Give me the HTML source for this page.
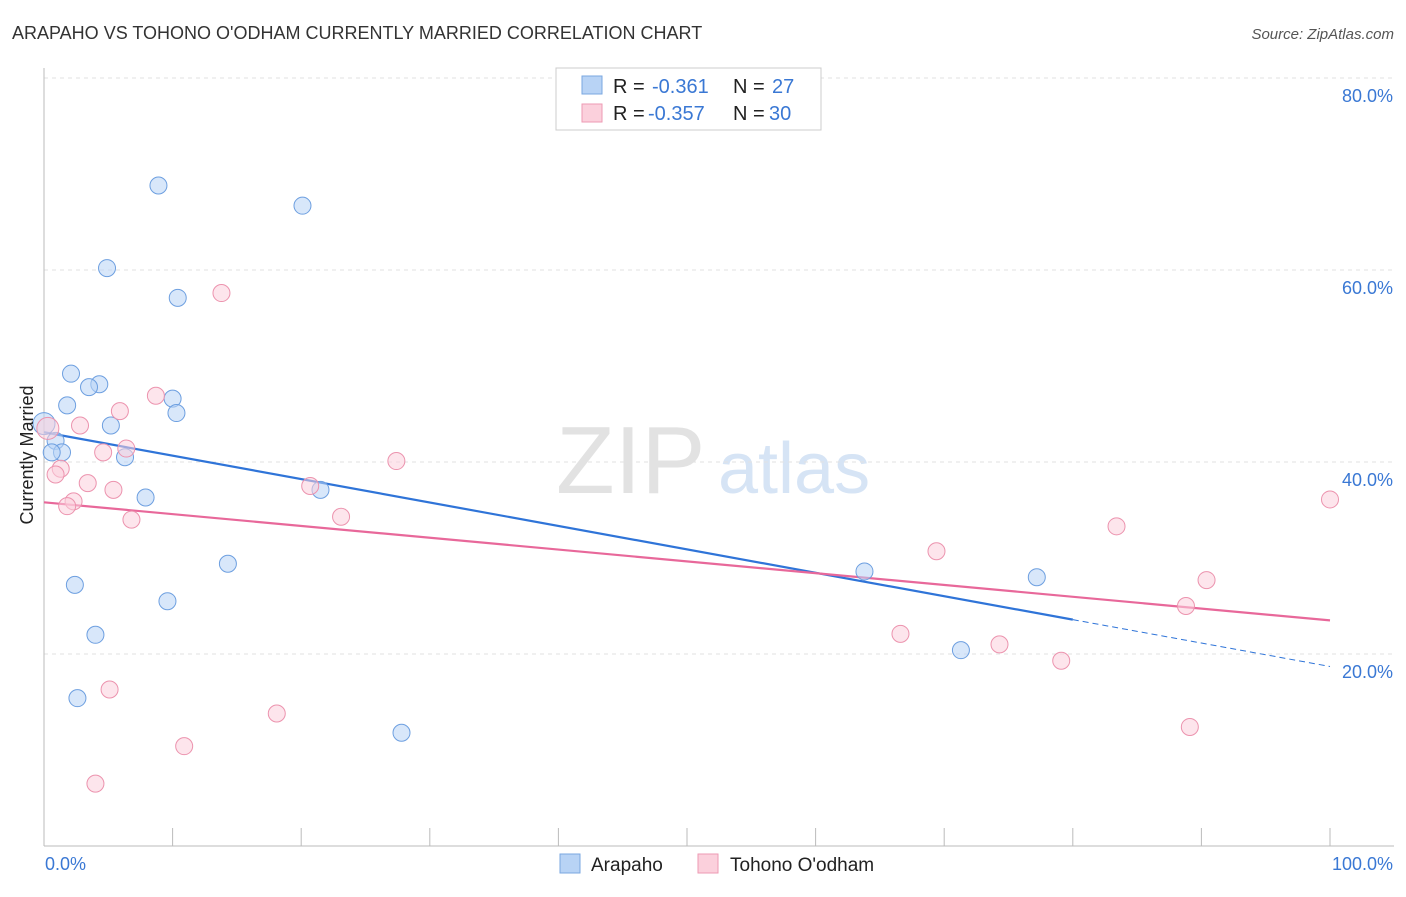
<!DOCTYPE html>
<html><head><meta charset="utf-8"><style>
body{margin:0;background:#fff;font-family:"Liberation Sans",sans-serif;}
svg text{font-family:"Liberation Sans",sans-serif;}
</style></head><body>
<svg id="c" width="1406" height="892">
<text x="12" y="39" font-size="18" fill="#333">ARAPAHO VS TOHONO O'ODHAM CURRENTLY MARRIED CORRELATION CHART</text>
<text x="1394" y="39" font-size="15" fill="#555" text-anchor="end" font-style="italic">Source: ZipAtlas.com</text>
<text x="556" y="493" font-size="96" fill="#e2e2e2" font-family="Liberation Serif">ZIP</text>
<text x="718" y="493" font-size="72" fill="#d6e4f5">atlas</text>
<g id="grid"></g><g id="axes"></g><g id="trend"></g><g id="pts"></g>
<text transform="translate(33,455) rotate(-90)" font-size="18" fill="#222" text-anchor="middle">Currently Married</text>
<text x="45" y="870" font-size="18" fill="#3a78d4">0.0%</text>
<text x="1393" y="870" font-size="18" fill="#3a78d4" text-anchor="end">100.0%</text>
<g>
<rect x="556" y="68" width="265" height="62" fill="#fff" stroke="#ccc"/>
<rect x="582" y="76" width="20" height="18" fill="#b8d3f5" stroke="#7aa7e0"/>
<rect x="582" y="104" width="20" height="18" fill="#fbd0dc" stroke="#ee9ab3"/>
<text x="613" y="93" font-size="20" fill="#222">R =</text>
<text x="652" y="93" font-size="20" fill="#3a78d4">-0.361</text>
<text x="733" y="93" font-size="20" fill="#222">N =</text>
<text x="772" y="93" font-size="20" fill="#3a78d4">27</text>
<text x="613" y="120" font-size="20" fill="#222">R =</text>
<text x="648" y="120" font-size="20" fill="#3a78d4">-0.357</text>
<text x="733" y="120" font-size="20" fill="#222">N =</text>
<text x="769" y="120" font-size="20" fill="#3a78d4">30</text>
</g>
<g>
<rect x="560" y="854" width="20" height="19" fill="#b8d3f5" stroke="#7aa7e0"/>
<text x="591" y="871" font-size="19" fill="#222">Arapaho</text>
<rect x="698" y="854" width="20" height="19" fill="#fbd0dc" stroke="#ee9ab3"/>
<text x="730" y="871" font-size="19" fill="#222">Tohono O'odham</text>
</g>
</svg>
<script>
const yTicks=[20,40,60,80];
const xTicks=[0,10,20,30,40,50,60,70,80,90,100];
const arapahoX=[8.9,20.1,4.9,10.4,2.1,4.3,3.5,1.8,10.0,10.3,5.2,0.9,1.4,0.6,6.3,7.9,21.5,14.3,2.4,9.6,4.0,2.6,27.8,63.8,77.2,71.3,0.0];
const arapahoY=[68.8,66.7,60.2,57.1,49.2,48.1,47.8,45.9,46.6,45.1,43.8,42.2,41.0,41.0,40.5,36.3,37.1,29.4,27.2,25.5,22.0,15.4,11.8,28.6,28.0,20.4,44.0];
const tohonoX=[13.8,8.7,5.9,2.8,6.4,4.6,1.3,0.9,3.4,5.4,2.3,1.8,6.8,20.7,23.1,27.4,69.4,83.4,100,90.4,88.8,66.6,74.3,79.1,5.1,18.1,10.9,4.0,89.1,0.3];
const tohonoY=[57.6,46.9,45.3,43.8,41.4,41.0,39.3,38.7,37.8,37.1,35.9,35.4,34.0,37.5,34.3,40.1,30.7,33.3,36.1,27.7,25.0,22.1,21.0,19.3,16.3,13.8,10.4,6.5,12.4,43.5];
const blueFit=[43.1,-0.244], pinkFit=[35.8,-0.123];
const X=v=>44+v*12.86, Y=v=>846-v*9.6;
const NS='http://www.w3.org/2000/svg';
function mk(t,a,p){const e=document.createElementNS(NS,t);for(const k in a)e.setAttribute(k,a[k]);p.appendChild(e);return e;}
const g=document.getElementById('grid'),ax=document.getElementById('axes'),tr=document.getElementById('trend'),pts=document.getElementById('pts');
yTicks.forEach(v=>{
 const l=mk('line',{x1:44,x2:1394,y1:Y(v),y2:Y(v),stroke:'#e2e2e2','stroke-dasharray':'4,4'},g);
 
 
 const t=mk('text',{x:1393,y:Y(v)+24,'font-size':18,fill:'#3a78d4','text-anchor':'end'},g);t.textContent=v.toFixed(1)+'%';
 
 
});
mk('line',{x1:44,x2:44,y1:68,y2:846,stroke:'#bbb'},ax);
mk('line',{x1:44,x2:1394,y1:846,y2:846,stroke:'#bbb'},ax);
xTicks.forEach(v=>{const l=mk('line',{x1:X(v),x2:X(v),y1:828,y2:846,stroke:'#bbb'},ax);
 
 });
function line(f,x0,x1,c,dash){const l=mk('line',{x1:X(x0),x2:X(x1),y1:Y(f[0]+f[1]*x0),y2:Y(f[0]+f[1]*x1),stroke:c,'stroke-width':dash?1:2.2},tr);if(dash)l.setAttribute('stroke-dasharray','6,4');return l;}
let l1=line(blueFit,0,80,'#2f74d8');


let l2=line(blueFit,80,100,'#2f74d8',true);


let l3=line(pinkFit,0,100,'#e8689a');


function dots(xs,ys,f,s,name){xs.forEach((x,i)=>{const c=mk('circle',{cx:X(x),cy:Y(ys[i]),r:(x===0||x===0.3)?11:8.5,fill:f,'fill-opacity':0.55,stroke:s,'stroke-width':1},pts);
 
 });}
dots(arapahoX,arapahoY,'#b8d3f5','#6d9fe0','arapaho-point');
dots(tohonoX,tohonoY,'#fbd0dc','#ec93ae','tohono-point');
</script>
</body></html>
